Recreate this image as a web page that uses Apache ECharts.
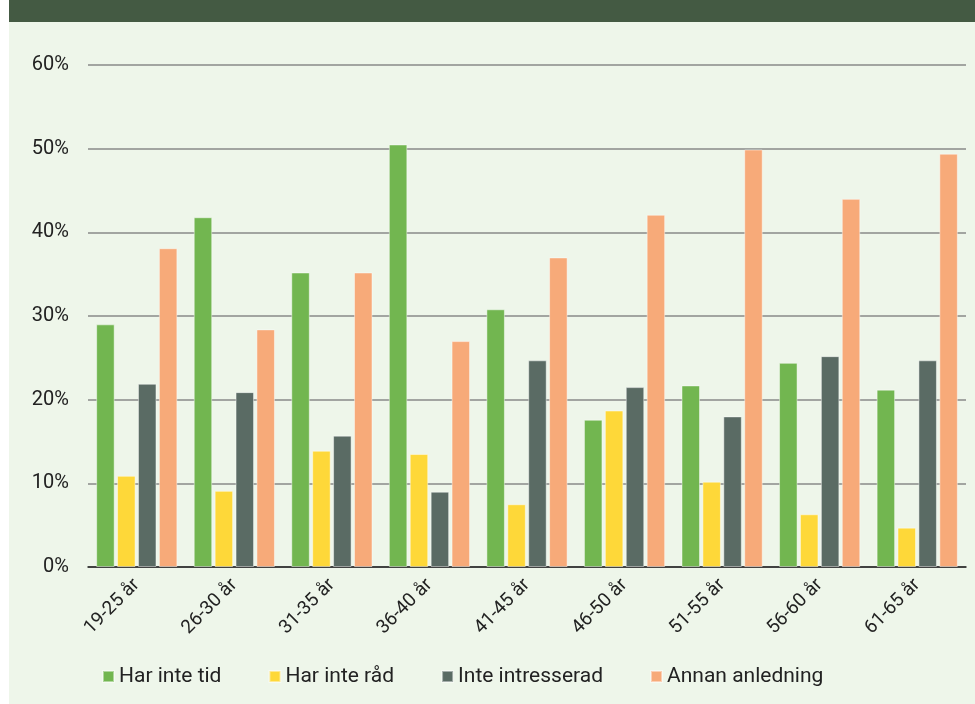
<!DOCTYPE html>
<html>
<head>
<meta charset="utf-8">
<script src="https://cdn.jsdelivr.net/npm/echarts@6/dist/echarts.min.js"></script>
<style>
  html, body { margin: 0; padding: 0; background: #ffffff; }
  #chart { width: 975px; height: 704px; }
</style>
</head>
<body>
<div id="chart"></div>
<script>
// Age groups along the x axis
const categories = ['19-25 år', '26-30 år', '31-35 år', '36-40 år', '41-45 år', '46-50 år', '51-55 år', '56-60 år', '61-65 år'];

// Share of respondents per reason, in percent
const harInteTid = [29.0, 41.8, 35.2, 50.5, 30.8, 17.6, 21.7, 24.4, 21.2];
const harInteRad = [10.9, 9.1, 13.9, 13.5, 7.5, 18.7, 10.2, 6.3, 4.7];
const inteIntresserad = [21.9, 20.9, 15.7, 9.0, 24.7, 21.5, 18.0, 25.2, 24.7];
const annanAnledning = [38.1, 28.4, 35.2, 27.0, 37.0, 42.1, 49.9, 44.0, 49.4];

const seriesNames = ['Har inte tid', 'Har inte råd', 'Inte intresserad', 'Annan anledning'];
const seriesColors = ['#72b650', '#fed839', '#5a6b64', '#f7aa79'];
const seriesData = [harInteTid, harInteRad, inteIntresserad, annanAnledning];

const FONT = 'Roboto, "Noto Sans", sans-serif';

const chart = echarts.init(document.getElementById('chart'), null, { renderer: 'canvas' });

chart.setOption({
  backgroundColor: '#ffffff',
  animation: false,
  graphic: [
    { type: 'rect', left: 9, top: 0, shape: { width: 966, height: 704 }, style: { fill: '#eef6ea' }, z: -10 },
    { type: 'rect', left: 9, top: 0, shape: { width: 966, height: 22 }, style: { fill: '#445a43' }, z: -9 }
  ],
  grid: { left: 88, right: 9, top: 65, bottom: 137, containLabel: false },
  legend: {
    left: 97,
    top: 661,
    itemWidth: 11,
    itemHeight: 11,
    itemGap: 47,
    icon: 'rect',
    textStyle: { fontFamily: FONT, fontSize: 21, color: '#222222' },
    data: seriesNames
  },
  xAxis: {
    type: 'category',
    data: categories,
    axisLine: { show: true, lineStyle: { color: '#222222', width: 1.5 } },
    axisTick: { show: false },
    axisLabel: {
      rotate: 45,
      margin: 15,
      interval: 0,
      fontFamily: FONT,
      fontSize: 19,
      color: '#222222'
    }
  },
  yAxis: {
    type: 'value',
    min: 0,
    max: 60,
    interval: 10,
    axisLine: { show: false },
    axisTick: { show: false },
    axisLabel: {
      formatter: '{value}%',
      margin: 19,
      fontFamily: FONT,
      fontSize: 20,
      color: '#222222'
    },
    splitLine: { lineStyle: { color: '#a2a5a1', width: 2 } }
  },
  series: seriesNames.map((name, i) => ({
    name: name,
    type: 'bar',
    data: seriesData[i],
    barWidth: 18.5,
    barGap: '13%',
    itemStyle: {
      color: seriesColors[i],
      borderColor: 'rgba(255,255,255,0.45)',
      borderWidth: 1
    }
  }))
});
</script>
</body>
</html>
